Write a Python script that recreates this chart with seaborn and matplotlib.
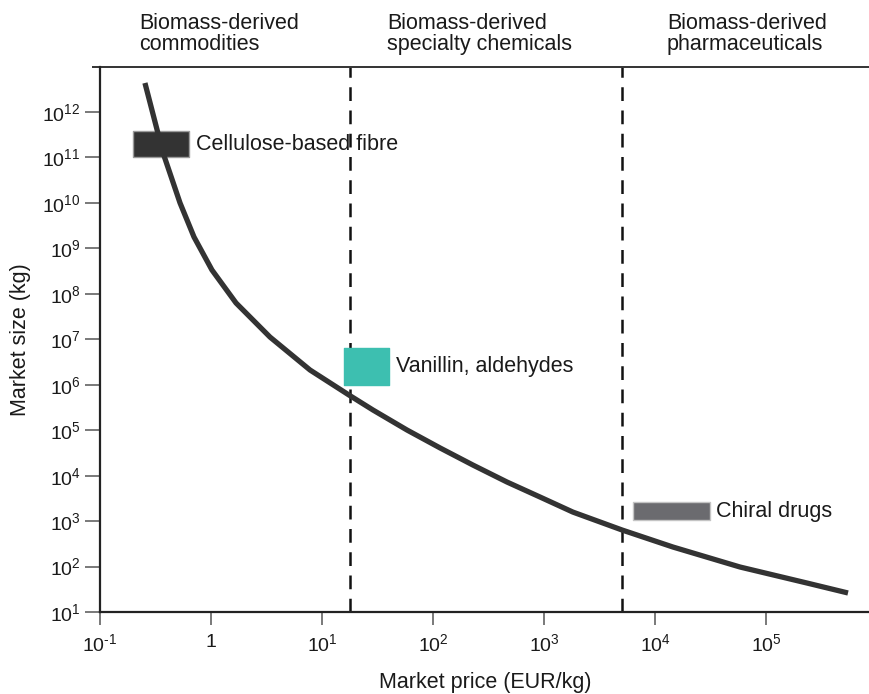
import numpy as np
import pandas as pd
import matplotlib
matplotlib.use("Agg")
import matplotlib.pyplot as plt
import matplotlib.transforms as mtransforms
from matplotlib.ticker import FixedLocator, FixedFormatter, NullLocator
import seaborn as sns

# Market size vs. market price trend line (EUR/kg, kg)
curve_price = [0.254, 0.370, 0.526, 0.703, 1.02, 1.68, 3.40, 7.80, 17.5,
               28.8, 58.3, 116, 229, 464, 920, 1820, 5050, 14500, 58300,
               234000, 548000]
curve_size = [4.36e12, 1.26e11, 1.0e10, 1.78e9, 3.35e8, 6.3e7, 1.12e7,
              2.11e6, 5.94e5, 2.78e5, 1.01e5, 4.06e4, 1.71e4, 7.24e3,
              3.39e3, 1.58e3, 637, 269, 97.7, 43.4, 26.2]

# Product groups: price range and market-size range
products = ["Cellulose-based fibre", "Vanillin, aldehydes", "Chiral drugs"]
price_lo = [0.2, 15.8, 6300]
price_hi = [0.63, 40.0, 31000]
size_lo = [1.0e11, 1.0e6, 1050]
size_hi = [3.8e11, 6.4e6, 2600]
product_colors = ["#333333", "#3dbfb0", "#6b6b6f"]
product_edges = ["#9a9a9a", "#3dbfb0", "#c4c4c4"]

# Segment boundaries and headings
boundaries = [18, 5000]
segments = ["Biomass-derived\ncommodities",
            "Biomass-derived\nspecialty chemicals",
            "Biomass-derived\npharmaceuticals"]
segment_x = [0.225, 38.5, 12800]

xtick_vals = [1e-1, 1, 1e1, 1e2, 1e3, 1e4, 1e5]
xtick_labels = [r"$10^{\text{-}1}$", "1", r"$10^{1}$", r"$10^{2}$",
                r"$10^{3}$", r"$10^{4}$", r"$10^{5}$"]
ytick_vals = [10.0 ** k for k in range(1, 13)]
ytick_labels = [r"$10^{%d}$" % k for k in range(1, 13)]

sns.set_style("ticks")
plt.rcParams["font.family"] = ["Liberation Sans", "DejaVu Sans"]
plt.rcParams["mathtext.fontset"] = "custom"
plt.rcParams["mathtext.rm"] = "Liberation Sans"
plt.rcParams["mathtext.it"] = "Liberation Sans"
plt.rcParams["mathtext.bf"] = "Liberation Sans"

fig = plt.figure(figsize=(8.7, 6.94), dpi=100)
ax = fig.add_axes([100 / 870, 1 - 612 / 694, 770 / 870, 545 / 694])

ax.set_xscale("log")
ax.set_yscale("log")
ax.set_xlim(0.1, 10 ** (-1 + 770 / 111))
ax.set_ylim(10, 10 ** (1 + 545 / 45.45))

# product boxes
for name, x0, x1, y0, y1, c, ec in zip(products, price_lo, price_hi, size_lo,
                                       size_hi, product_colors, product_edges):
    ax.fill_between([x0, x1], y0, y1, facecolor=c, edgecolor=ec, linewidth=1.0,
                    zorder=2)
    ax.annotate(name, xy=(x1, np.sqrt(y0 * y1)), xytext=(5, 0),
                textcoords="offset points", va="center", ha="left",
                fontsize=15.5, color="#1a1a1a", zorder=5)

# segment boundaries
for b in boundaries:
    ax.axvline(b, color="#111111", linewidth=1.8, dashes=(5.5, 3.8), zorder=1)

# trend curve
df = pd.DataFrame({"price": curve_price, "size": curve_size})
sns.lineplot(data=df, x="price", y="size", ax=ax, color="#333333",
             linewidth=3.8, sort=False, estimator=None, zorder=3)
ax.lines[-1].set_solid_capstyle("butt")
ax.lines[-1].set_solid_joinstyle("round")

# segment headings
trans = mtransforms.blended_transform_factory(ax.transData, fig.transFigure)
for label, x in zip(segments, segment_x):
    ax.text(x, 1 - 13 / 694, label, transform=trans, ha="left", va="top",
            fontsize=15.5, color="#1a1a1a", linespacing=0.98)

# axes styling
ax.xaxis.set_major_locator(FixedLocator(xtick_vals))
ax.xaxis.set_major_formatter(FixedFormatter(xtick_labels))
ax.yaxis.set_major_locator(FixedLocator(ytick_vals))
ax.yaxis.set_major_formatter(FixedFormatter(ytick_labels))
ax.xaxis.set_minor_locator(NullLocator())
ax.yaxis.set_minor_locator(NullLocator())
ax.tick_params(axis="y", length=11, width=1.1, color="#555555", pad=3,
               labelsize=14, labelcolor="#1a1a1a")
ax.tick_params(axis="x", length=9.5, width=1.1, color="#555555", pad=6,
               labelsize=14, labelcolor="#1a1a1a")

for side in ["right", "top"]:
    ax.spines[side].set_visible(False)
for side in ["left", "bottom"]:
    ax.spines[side].set_color("#222222")
    ax.spines[side].set_linewidth(1.6)

# top rule
ax.plot([-8 / 770, 1], [1, 1], transform=ax.transAxes, color="#333333",
        linewidth=1.4, clip_on=False, solid_capstyle="butt")

ax.set_xlabel("Market price (EUR/kg)", fontsize=15.5, color="#1a1a1a",
              labelpad=12)
ax.set_ylabel("Market size (kg)", fontsize=15.5, color="#1a1a1a", labelpad=8)

fig.savefig("out.png", dpi=100)
